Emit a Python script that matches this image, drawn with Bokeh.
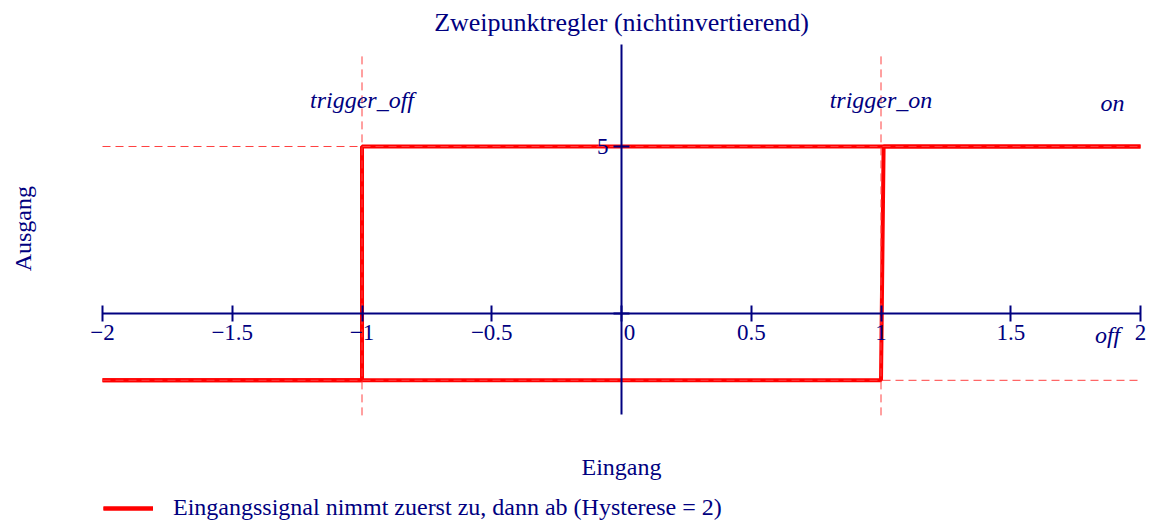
from bokeh.plotting import figure
from bokeh.models import (Range1d, LinearAxis, FixedTicker, Label, Legend, LegendItem)
from bokeh.embed import file_html
from bokeh.resources import INLINE
import math

# ---- data ----
eingang_auf = [-2, 1, 1.01, 2]        # Eingang steigt
ausgang_auf = [-2, -2, 5, 5]
eingang_ab = [2, -1, -1, -2]          # Eingang fällt
ausgang_ab = [5, 5, -2, -2]
trigger_off = -1
trigger_on = 1
on = 5
off = -2
x_ticks = [-2, -1.5, -1, -0.5, 0, 0.5, 1, 1.5, 2]
y_ticks = [0, 5]

NAVY = "#000080"
RED = "#ff0000"
DASH_RED = "#ff4040"
FONT = "Liberation Serif"

p = figure(width=1152, height=524, output_backend="svg", toolbar_location=None,
           x_range=Range1d(-2.3931, 2.0462), y_range=Range1d(-6.317, 9.371),
           x_axis_location=None, y_axis_location=None, min_border=0)
p.outline_line_color = None
p.grid.visible = False
p.background_fill_color = "white"

# axes through origin
xaxis = LinearAxis(fixed_location=0, ticker=FixedTicker(ticks=x_ticks), bounds=(-2, 2))
xaxis.major_label_overrides = {t: (("\u2212" if t < 0 else "") + ("%g" % abs(t)) if t != 0 else "\u2007\u20090") for t in x_ticks}
yaxis = LinearAxis(fixed_location=0, ticker=FixedTicker(ticks=y_ticks), bounds=(-3.02, 8.05))
yaxis.major_label_overrides = {0: "", 5: "5"}
for ax in (xaxis, yaxis):
    ax.axis_line_color = NAVY
    ax.axis_line_width = 2
    ax.major_tick_line_color = NAVY
    ax.major_tick_line_width = 2
    ax.major_tick_in = 8
    ax.major_tick_out = 8
    ax.minor_tick_line_color = None
    ax.major_label_text_color = NAVY
    ax.major_label_text_font = FONT
    ax.major_label_text_font_size = "23px"
xaxis.major_label_standoff = -2
yaxis.major_label_standoff = 5
p.add_layout(xaxis, "below")
p.add_layout(yaxis, "left")

# main hysteresis trace
r1 = p.line(eingang_auf, ausgang_auf, line_color=RED, line_width=4)
r2 = p.line(eingang_ab, ausgang_ab, line_color=RED, line_width=4)

# marker lines
for xv in (trigger_off, trigger_on):
    p.segment(x0=[xv], y0=[-3.05], x1=[xv], y1=[7.8], line_color=DASH_RED, line_width=1, line_dash="8 5")
for yv in (on, off):
    p.segment(x0=[-2], y0=[yv], x1=[2], y1=[yv], line_color=DASH_RED, line_width=1, line_dash="8 5")

def lab(x, y, text, size="24px", style="normal", align="center", angle=0, baseline="alphabetic"):
    p.add_layout(Label(x=x, y=y, text=text, text_font=FONT, text_font_size=size,
                       text_font_style=style, text_color=NAVY, text_align=align,
                       text_baseline=baseline, angle=angle))

lab(trigger_off, 6.38, "trigger_off", style="italic")
lab(trigger_on, 6.38, "trigger_on", style="italic")
lab(1.892, 6.29, "on", style="italic")
lab(1.873, -0.63, "off", style="italic")
lab(0, 8.71, "Zweipunktregler (nichtinvertierend)", size="26px")
lab(0, -4.61, "Eingang")
lab(-2.308, 2.54, "Ausgang", angle=math.pi / 2, baseline="middle")

legend = Legend(items=[LegendItem(label="Eingangssignal nimmt zuerst zu, dann ab (Hysterese = 2)",
                                  renderers=[r1, r2])],
                location=(103, 3), padding=0, margin=0, spacing=0,
                border_line_color=None, background_fill_alpha=0,
                label_text_font=FONT, label_text_font_size="24px", label_text_color=NAVY,
                glyph_width=50, glyph_height=20, label_height=20, label_standoff=20)
p.add_layout(legend)

open("out.html", "w").write(file_html(p, INLINE))
